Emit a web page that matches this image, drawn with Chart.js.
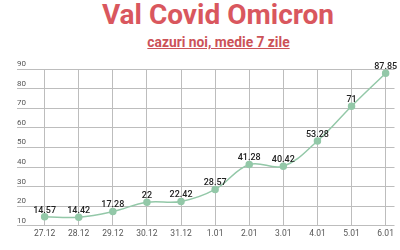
<!DOCTYPE html>
<html>
<head>
<meta charset="utf-8">
<script src="https://cdn.jsdelivr.net/npm/chart.js@4"></script>
<style>
  html, body { margin: 0; padding: 0; background: #fff; }
  body { width: 400px; height: 250px; position: relative; overflow: hidden; font-family: Roboto, sans-serif; }
  #title { position: absolute; left: 0; top: -2px; width: 436px; text-align: center; font-weight: bold; font-size: 28px; color: #d9575e; }
  #subtitle { position: absolute; left: 0; top: 34px; width: 437px; text-align: center; font-weight: bold; font-size: 13.8px; color: #cc5258; text-decoration: underline; }
  #wrap { position: absolute; left: 0; top: 50px; width: 400px; height: 200px; }
</style>
</head>
<body>
<div id="title">Val Covid Omicron</div>
<div id="subtitle">cazuri noi, medie 7 zile</div>
<div id="wrap"><canvas id="omicronChart"></canvas></div>
<script>
  const labels = ["27.12", "28.12", "29.12", "30.12", "31.12", "1.01", "2.01", "3.01", "4.01", "5.01", "6.01"];
  const cases = [14.57, 14.42, 17.28, 22, 22.42, 28.57, 41.28, 40.42, 53.28, 71, 87.85];

  // draws the value above each point
  const valueLabels = {
    id: "valueLabels",
    afterDatasetsDraw(chart) {
      const c = chart.ctx;
      const meta = chart.getDatasetMeta(0);
      c.save();
      c.font = "500 9px Roboto";
      c.fillStyle = "#222";
      c.textAlign = "center";
      c.textBaseline = "bottom";
      meta.data.forEach((pt, i) => {
        c.fillText(String(cases[i]), pt.x, pt.y - 2);
      });
      c.restore();
    }
  };

  const el = document.getElementById("omicronChart");
  new Chart(el.getContext("2d"), {
    type: "line",
    data: {
      datasets: [{
        data: cases.map((v, i) => ({ x: i, y: v })),
        borderColor: "#93c8a8",
        backgroundColor: "#93c8a8",
        borderWidth: 1.5,
        tension: 0.4,
        pointRadius: 3,
        fill: false
      }]
    },
    options: {
      responsive: true,
      maintainAspectRatio: false,
      animation: false,
      layout: { padding: { left: 17, right: 0, top: 19, bottom: 8 } },
      plugins: { legend: { display: false }, tooltip: { enabled: false } },
      scales: {
        x: {
          type: "linear",
          min: -0.81,
          max: 10.26,
          border: { display: false },
          grid: { color: "#bdbdbd", drawTicks: false },
          afterBuildTicks: (s) => { s.ticks = labels.map((_, i) => ({ value: i })); },
          afterFit: (s) => { s.paddingLeft = 0; s.paddingRight = 0; },
          ticks: {
            callback: (v) => labels[v],
            color: "#555",
            font: { family: "Roboto", size: 8.5 },
            padding: 3,
            maxRotation: 0,
            autoSkip: false
          }
        },
        y: {
          min: 10,
          max: 90,
          border: { display: false },
          grid: { color: "#bdbdbd", drawTicks: false },
          ticks: {
            stepSize: 10,
            mirror: true,
            labelOffset: -5,
            padding: 0,
            color: "#555",
            font: { family: "Roboto", size: 8 }
          }
        }
      }
    },
    plugins: [valueLabels]
  });
</script>
</body>
</html>
